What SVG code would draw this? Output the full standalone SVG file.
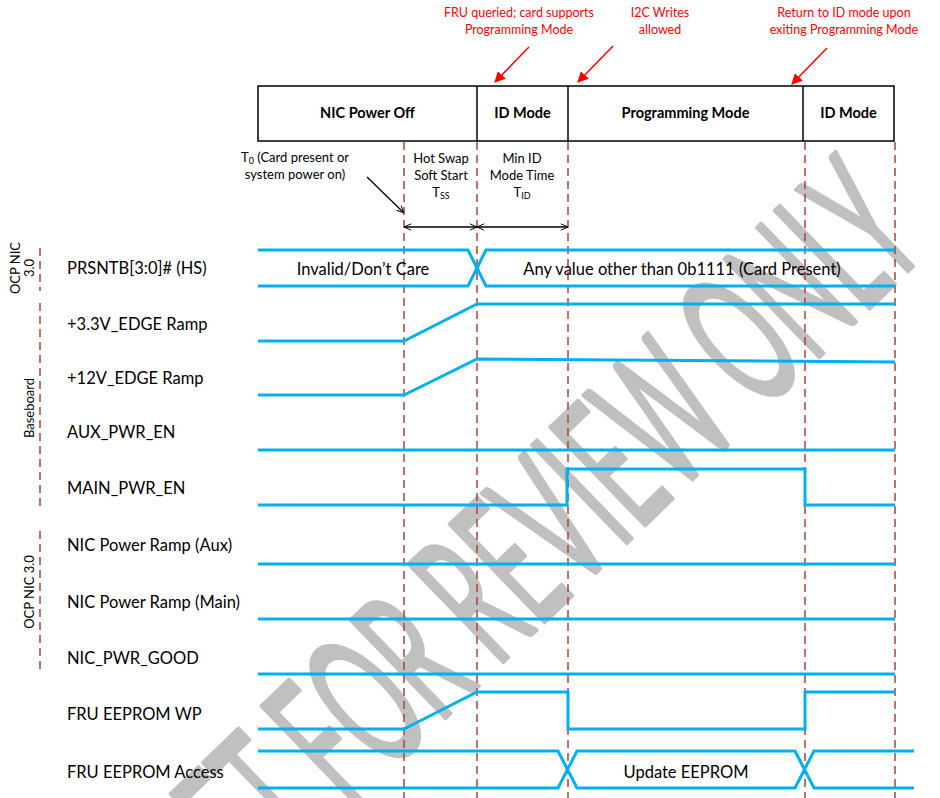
<svg xmlns="http://www.w3.org/2000/svg" width="940" height="798" viewBox="0 0 940 798">
<defs>
<style>
text{font-family:Lato,"Open Sans","Liberation Sans",sans-serif;fill:#000}
.lbl{font-size:16.5px}
.hdr{font-size:14.5px;font-weight:bold;text-anchor:middle}
.note{font-size:13px;text-anchor:middle}
.red{font-size:12.5px;text-anchor:middle;fill:#FF0000}
.grp{font-size:13px;text-anchor:middle}
.sig{fill:none;stroke:#00B0F0;stroke-width:3;stroke-linejoin:miter}
.dash{fill:none;stroke:#A5433C;stroke-width:1.5;stroke-dasharray:8 5}
.box{fill:#fff;stroke:#000;stroke-width:1.5}
.wm{font-family:Lato,"Liberation Sans",sans-serif;font-size:190px;fill:#C0C0C0;stroke:#C0C0C0;stroke-width:4;stroke-linejoin:round}
</style>
<marker id="open" viewBox="0 0 10 10" refX="10" refY="5" markerWidth="8" markerHeight="8" orient="auto-start-reverse" markerUnits="userSpaceOnUse">
<path d="M1,1 L10,5 L1,9" fill="none" stroke="#000" stroke-width="1.2"/>
</marker>
<marker id="redhead" viewBox="0 0 10 10" refX="9" refY="5" markerWidth="11" markerHeight="11" orient="auto" markerUnits="userSpaceOnUse">
<path d="M0,0 L10,5 L0,10 Z" fill="#FF0000"/>
</marker>
</defs>
<rect width="940" height="798" fill="#fff"/>

<!-- watermark -->
<g id="watermark">
<text class="wm" transform="translate(480,590) rotate(-44) scale(0.48,1)" text-anchor="middle" y="68">DRAFT FOR REVIEW ONLY</text>
</g>

<!-- header -->
<g id="header">
<rect class="box" x="258" y="86" width="636" height="55"/>
<line x1="477" y1="86" x2="477" y2="141" stroke="#000" stroke-width="1.5"/>
<line x1="568" y1="86" x2="568" y2="141" stroke="#000" stroke-width="1.5"/>
<line x1="803" y1="86" x2="803" y2="141" stroke="#000" stroke-width="1.5"/>
<text class="hdr" x="367.5" y="118">NIC Power Off</text>
<text class="hdr" x="522.5" y="118">ID Mode</text>
<text class="hdr" x="685.5" y="118">Programming Mode</text>
<text class="hdr" x="848.5" y="118">ID Mode</text>
</g>

<!-- red annotations -->
<g id="annotations">
<text class="red" x="519" y="17">FRU queried; card supports</text>
<text class="red" x="519" y="34">Programming Mode</text>
<text class="red" x="660" y="17">I2C Writes</text>
<text class="red" x="660" y="34">allowed</text>
<text class="red" x="844" y="17">Return to ID mode upon</text>
<text class="red" x="844" y="34">exiting Programming Mode</text>
</g>

<!-- timing notes -->
<g id="notes">
<text class="note" x="295" y="162">T<tspan font-size="9" dy="2">0</tspan><tspan dy="-2"> (Card present or</tspan></text>
<text class="note" x="295" y="179">system power on)</text>
<text class="note" x="441" y="163">Hot Swap</text>
<text class="note" x="441" y="180">Soft Start</text>
<text class="note" x="441" y="197">T<tspan font-size="9" dy="2">SS</tspan></text>
<text class="note" x="522" y="163">Min ID</text>
<text class="note" x="522" y="180">Mode Time</text>
<text class="note" x="522" y="197">T<tspan font-size="9" dy="2">ID</tspan></text>
</g>

<!-- group labels -->
<g id="groups">
<text class="grp" transform="translate(20,268) rotate(-90)">OCP NIC</text>
<text class="grp" transform="translate(34,268) rotate(-90)">3.0</text>
<text class="grp" transform="translate(34,408) rotate(-90)">Baseboard</text>
<text class="grp" transform="translate(34,592) rotate(-90)">OCP NIC 3.0</text>
<line class="dash" x1="40" y1="248" x2="40" y2="291"/>
<line class="dash" x1="40" y1="303" x2="40" y2="511"/>
<line class="dash" x1="40" y1="531" x2="40" y2="672"/>
</g>

<!-- signal labels -->
<g id="labels">
<text class="lbl" x="67" y="274">PRSNTB[3:0]# (HS)</text>
<text class="lbl" x="67" y="330">+3.3V_EDGE Ramp</text>
<text class="lbl" x="67" y="384">+12V_EDGE Ramp</text>
<text class="lbl" x="67" y="438">AUX_PWR_EN</text>
<text class="lbl" x="67" y="494">MAIN_PWR_EN</text>
<text class="lbl" x="67" y="551">NIC Power Ramp (Aux)</text>
<text class="lbl" x="67" y="608">NIC Power Ramp (Main)</text>
<text class="lbl" x="67" y="664">NIC_PWR_GOOD</text>
<text class="lbl" x="67" y="720">FRU EEPROM WP</text>
<text class="lbl" x="67" y="778">FRU EEPROM Access</text>
</g>

<!-- phase markers -->
<g id="markers">
<line class="dash" x1="404" y1="142" x2="404" y2="798"/>
<line class="dash" x1="477" y1="142" x2="477" y2="798"/>
<line class="dash" x1="568" y1="142" x2="568" y2="798"/>
<line class="dash" x1="805" y1="142" x2="805" y2="798"/>
<line class="dash" x1="895" y1="142" x2="895" y2="798"/>
</g>

<!-- waveforms -->
<g id="waveforms">
<g id="sig-prsntb">
<path class="sig" d="M258,250 H468 L486,286 H895"/>
<path class="sig" d="M258,286 H468 L486,250 H895"/>
<text class="lbl" x="363" y="275" text-anchor="middle">Invalid/Don’t Care</text>
<text class="lbl" x="682" y="275" text-anchor="middle">Any value other than 0b1111 (Card Present)</text>
</g>
<path id="sig-33v" class="sig" d="M258,341 H404 L477,304 H895"/>
<path id="sig-12v" class="sig" d="M258,395 H404 L477,359 L895,362"/>
<path id="sig-aux" class="sig" d="M258,450 H895"/>
<path id="sig-main" class="sig" d="M258,505 H567 V469 H805 V505 H895"/>
<path id="sig-nicaux" class="sig" d="M258,564 H895"/>
<path id="sig-nicmain" class="sig" d="M258,619 H895"/>
<path id="sig-good" class="sig" d="M258,674 H895"/>
<path id="sig-wp" class="sig" d="M258,729 H404 L477,692 H568 V729 H805 V692 H895"/>
<g id="sig-access">
<path class="sig" d="M258,751 H558 L577,788 H795 L814,751 H914"/>
<path class="sig" d="M258,788 H558 L577,751 H795 L814,788 H914"/>
<text class="lbl" x="686" y="778" text-anchor="middle">Update EEPROM</text>
</g>
</g>

<!-- connectors -->
<g id="connectors">
<line x1="404" y1="227" x2="477" y2="227" stroke="#000" stroke-width="1.3" marker-start="url(#open)" marker-end="url(#open)"/>
<line x1="477" y1="227" x2="568" y2="227" stroke="#000" stroke-width="1.3" marker-start="url(#open)" marker-end="url(#open)"/>
<line x1="367" y1="177" x2="404" y2="213" stroke="#000" stroke-width="1.3" marker-end="url(#open)"/>
<line x1="529" y1="47" x2="495" y2="82" stroke="#FF0000" stroke-width="1.5" marker-end="url(#redhead)"/>
<line x1="613" y1="46" x2="578" y2="82" stroke="#FF0000" stroke-width="1.5" marker-end="url(#redhead)"/>
<line x1="827" y1="48" x2="792" y2="84" stroke="#FF0000" stroke-width="1.5" marker-end="url(#redhead)"/>
</g>
</svg>
